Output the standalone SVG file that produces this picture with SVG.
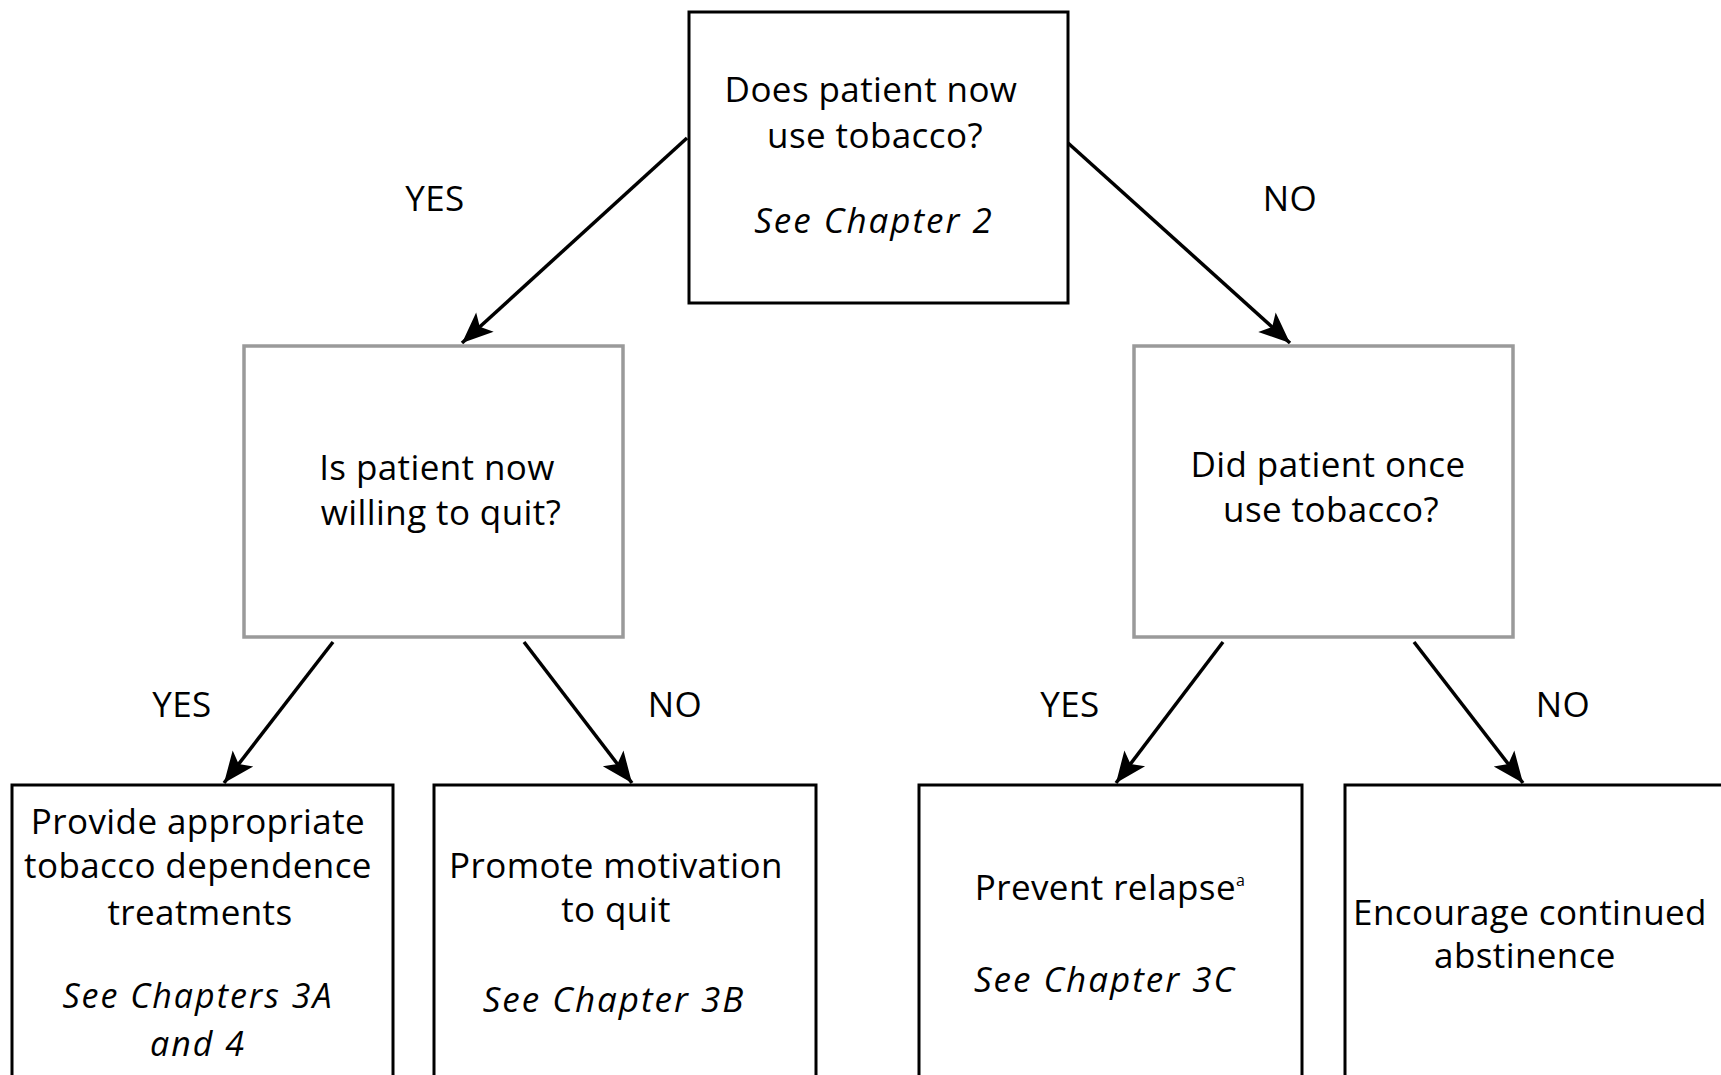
<svg xmlns="http://www.w3.org/2000/svg" width="1721" height="1075" viewBox="0 0 1721 1075">
<style>
text{font-family:"Open Sans","Noto Sans","DejaVu Sans",sans-serif;font-size:35px;fill:#000;text-anchor:middle;letter-spacing:0.4px}
.i{font-style:italic;letter-spacing:2px}
.s{font-size:34px}
.bk{fill:#fff;stroke:#000;stroke-width:3}
.gr{fill:#fff;stroke:#9a9a9a;stroke-width:3.5}
.c{stroke:#000;stroke-width:3.5;fill:none;marker-end:url(#ah)}
</style>
<defs>
<marker id="ah" viewBox="-32 -15 34 30" refX="0" refY="0" markerWidth="34" markerHeight="30" markerUnits="userSpaceOnUse" orient="auto">
<path d="M0,0 L-31,-13 L-24,0 L-31,13 Z" fill="#000"/>
</marker>
</defs>
<rect width="1721" height="1075" fill="#fff"/>
<g id="connectors">
<line class="c" x1="687" y1="138" x2="462" y2="343"/>
<line class="c" x1="1068" y1="143" x2="1290" y2="343"/>
<line class="c" x1="333" y1="642" x2="224" y2="783"/>
<line class="c" x1="524" y1="642" x2="632" y2="783"/>
<line class="c" x1="1223" y1="642" x2="1116" y2="783"/>
<line class="c" x1="1414" y1="642" x2="1523" y2="783"/>
<text x="435" y="211">YES</text>
<text x="1290" y="211">NO</text>
<text x="182" y="717">YES</text>
<text x="675" y="717">NO</text>
<text x="1070" y="717">YES</text>
<text x="1563" y="717">NO</text>
</g>
<g id="n-now">
<rect class="bk" x="689" y="12" width="379" height="291"/>
<text x="871" y="102">Does patient now</text>
<text x="875" y="148">use tobacco?</text>
<text class="i" x="874" y="233">See Chapter 2</text>
</g>
<g id="n-willing">
<rect class="gr" x="244" y="346" width="379" height="291"/>
<text x="437" y="480">Is patient now</text>
<text x="441" y="525">willing to quit?</text>
</g>
<g id="n-once">
<rect class="gr" x="1134" y="346" width="379" height="291"/>
<text x="1328" y="477">Did patient once</text>
<text x="1331" y="522">use tobacco?</text>
</g>
<g id="n-provide">
<rect class="bk" x="12" y="785" width="381" height="300"/>
<text x="198" y="834">Provide appropriate</text>
<text x="198" y="878">tobacco dependence</text>
<text x="200" y="925">treatments</text>
<text class="i s" x="198" y="1008">See Chapters 3A</text>
<text class="i s" x="198" y="1056">and 4</text>
</g>
<g id="n-promote">
<rect class="bk" x="434" y="785" width="382" height="300"/>
<text x="616" y="878">Promote motivation</text>
<text x="616" y="922">to quit</text>
<text class="i" x="614" y="1012">See Chapter 3B</text>
</g>
<g id="n-prevent">
<rect class="bk" x="919" y="785" width="383" height="300"/>
<text x="1110" y="900">Prevent relapse<tspan font-size="16" dy="-14">a</tspan></text>
<text class="i" x="1105" y="992">See Chapter 3C</text>
</g>
<g id="n-encourage">
<rect class="bk" x="1345" y="785" width="400" height="300"/>
<text x="1530" y="925">Encourage continued</text>
<text x="1525" y="968">abstinence</text>
</g>
</svg>
